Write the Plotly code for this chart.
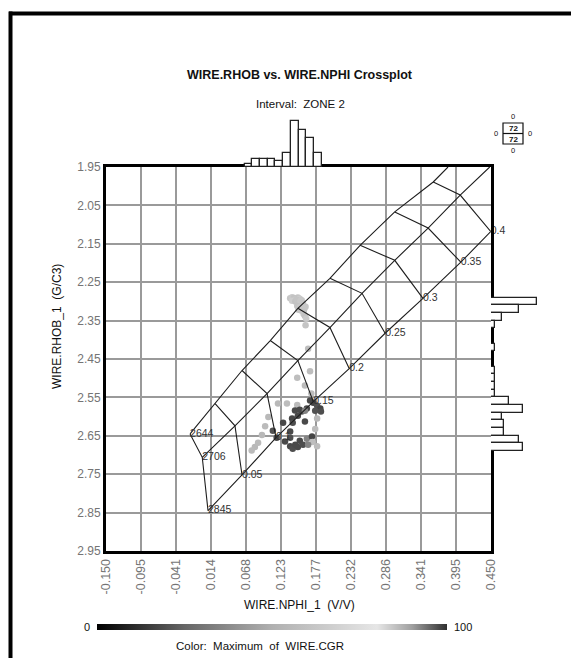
import plotly.graph_objects as go

# ---------------- data ----------------
# crossplot points (NPHI v/v, RHOB g/cc, CGR colour)
nphi = [0.137, 0.140, 0.143, 0.146, 0.149, 0.152, 0.155, 0.140, 0.145, 0.150, 0.147, 0.153, 0.157,
        0.148, 0.152, 0.156, 0.159, 0.154, 0.158, 0.161, 0.150,
        0.158, 0.160, 0.162, 0.161, 0.165, 0.168, 0.148, 0.160, 0.170,
        0.118, 0.132, 0.148, 0.168, 0.173,
        0.163, 0.179, 0.184, 0.155, 0.152, 0.160, 0.1445, 0.176, 0.185,
        0.149, 0.140, 0.179,
        0.126, 0.141, 0.160, 0.103,
        0.110, 0.176, 0.137, 0.098,
        0.116, 0.137, 0.093, 0.129, 0.163, 0.171, 0.152, 0.172,
        0.082, 0.077, 0.137, 0.141, 0.149, 0.157, 0.179, 0.145, 0.165, 0.087]
rhob = [2.292, 2.289, 2.291, 2.294, 2.290, 2.293, 2.297, 2.298, 2.300, 2.302, 2.296, 2.299, 2.305,
        2.312, 2.315, 2.318, 2.320, 2.324, 2.327, 2.314, 2.322,
        2.333, 2.338, 2.345, 2.362, 2.423, 2.482, 2.499, 2.519, 2.540,
        2.566, 2.566, 2.570, 2.558, 2.564,
        2.579, 2.572, 2.579, 2.587, 2.582, 2.585, 2.584, 2.585, 2.587,
        2.598, 2.605, 2.605,
        2.616, 2.616, 2.613, 2.601,
        2.637, 2.632, 2.639, 2.625,
        2.655, 2.655, 2.648, 2.665, 2.658, 2.652, 2.663, 2.666,
        2.679, 2.688, 2.677, 2.684, 2.679, 2.673, 2.677, 2.673, 2.673, 2.668]
cgr = [62, 64, 60, 63, 61, 65, 62, 66, 60, 63, 61, 64, 62,
       60, 63, 61, 64, 62, 60, 63, 61,
       62, 60, 64, 61, 58, 57, 58, 56, 57,
       55, 57, 56, 18, 17,
       18, 20, 17, 19, 18, 35, 18, 20, 19,
       18, 17, 55,
       18, 19, 18, 55,
       20, 57, 18, 56,
       18, 19, 55, 18, 35, 17, 18, 58,
       55, 56, 18, 19, 18, 19, 57, 18, 35, 56]

# marginal histograms (relative frequency)
top_bin_nphi = [0.072, 0.084, 0.096, 0.108, 0.120, 0.132, 0.144, 0.156, 0.168, 0.180]
top_freq = [0.7, 2.0, 2.0, 2.0, 1.6, 3.7, 12.0, 9.7, 7.6, 3.7]
right_bin_rhob = [2.30, 2.32, 2.34, 2.36, 2.42, 2.48, 2.50, 2.52, 2.54,
                  2.56, 2.58, 2.60, 2.62, 2.64, 2.66, 2.68]
right_freq = [12.0, 7.2, 2.9, 1.0, 1.0, 1.0, 1.0, 1.0, 1.0,
              4.7, 8.3, 2.9, 3.5, 3.5, 7.2, 8.3]

# neutron-density chart overlay (sandstone, limestone, dolomite lines)
porosity_labels = ["0", "0.05", "0.1", "0.15", "0.2", "0.25", "0.3", "0.35", "0.4"]
matrix_labels = ["2644", "2706", "2845"]
ss_nphi = [-0.019, 0.020, 0.062, 0.106, 0.149, 0.199, 0.246, 0.300, 0.360]
ss_rhob = [2.645, 2.566, 2.480, 2.402, 2.318, 2.240, 2.154, 2.067, 1.989]
ls_nphi = [0.000, 0.051, 0.101, 0.149, 0.199, 0.249, 0.300, 0.352, 0.402]
ls_rhob = [2.706, 2.624, 2.540, 2.454, 2.368, 2.279, 2.193, 2.109, 2.023]
dol_nphi = [0.009, 0.062, 0.115, 0.173, 0.229, 0.285, 0.344, 0.403, 0.4495]
dol_rhob = [2.845, 2.752, 2.655, 2.561, 2.475, 2.383, 2.292, 2.198, 2.118]
ss_end = (0.383, 1.950)
ls_end = (0.448, 1.950)

x_ticks = ["-0.150", "-0.095", "-0.041", "0.014", "0.068", "0.123", "0.177",
           "0.232", "0.286", "0.341", "0.395", "0.450"]
y_ticks = ["1.95", "2.05", "2.15", "2.25", "2.35", "2.45", "2.55", "2.65", "2.75", "2.85", "2.95"]

# ---------------- figure ----------------
OFF = 8                      # page body margin of the browser
W, H = 579 - OFF, 658 - OFF
L, R, T, B = 106, 540, 115, 551   # paper area, in screenshot pixels
PW, PH = R - L, B - T
def px(xp):
    return (xp - L) / PW
def py(yp):
    return (B - yp) / PH

XD = px(491)
YD = py(167)
X_RANGE = [-0.15, 0.45]
Y_RANGE = [2.95, 1.95]

font_fam = "Liberation Sans, Arial, sans-serif"
grey_scale = [[0.0, "#000000"], [0.25, "#666666"], [0.5, "#b0b0b0"],
              [0.8, "#e6e6e6"], [0.9, "#a0a0a0"], [1.0, "#303030"]]

fig = go.Figure()

fig.add_trace(go.Scatter(
    x=nphi, y=rhob, mode="markers", xaxis="x", yaxis="y",
    marker=dict(size=6.5, color=cgr, colorscale=grey_scale, cmin=0, cmax=100,
                line=dict(width=0), showscale=True,
                colorbar=dict(orientation="h", x=px(272), xanchor="center",
                              y=py(627), yanchor="middle", lenmode="pixels", len=350,
                              thickness=6, outlinewidth=0, showticklabels=False,
                              ticks="", xpad=0, ypad=0)),
    showlegend=False, hoverinfo="skip"))

# chart lines
line_style = dict(color="#1e1e1e", width=1.1)
for xs, ys, end in [(ss_nphi, ss_rhob, ss_end), (ls_nphi, ls_rhob, ls_end), (dol_nphi, dol_rhob, None)]:
    xx = list(xs) + ([end[0]] if end else [])
    yy = list(ys) + ([end[1]] if end else [])
    fig.add_trace(go.Scatter(x=xx, y=yy, mode="lines", line=line_style,
                             xaxis="x", yaxis="y", showlegend=False, hoverinfo="skip"))
cx, cy = [], []
for i in range(len(porosity_labels)):
    cx += [ss_nphi[i], ls_nphi[i], dol_nphi[i], None]
    cy += [ss_rhob[i], ls_rhob[i], dol_rhob[i], None]
fig.add_trace(go.Scatter(x=cx, y=cy, mode="lines", line=line_style,
                         xaxis="x", yaxis="y", showlegend=False, hoverinfo="skip"))

lab_font = dict(family=font_fam, size=10.5, color="#333333")
fig.add_trace(go.Scatter(x=dol_nphi[1:], y=dol_rhob[1:], mode="text",
                         text=porosity_labels[1:], textposition="middle right",
                         textfont=lab_font, cliponaxis=False,
                         xaxis="x", yaxis="y", showlegend=False, hoverinfo="skip"))
fig.add_trace(go.Scatter(x=[ss_nphi[0], ls_nphi[0], dol_nphi[0]],
                         y=[ss_rhob[0], ls_rhob[0], dol_rhob[0]], mode="text",
                         text=matrix_labels, textposition="middle right",
                         textfont=lab_font, cliponaxis=False,
                         xaxis="x", yaxis="y", showlegend=False, hoverinfo="skip"))

# histograms (own axes so the main grid does not run into them)
bar_mk = dict(color="white", line=dict(color="#222222", width=1.3))
fig.add_trace(go.Bar(x=top_bin_nphi, y=top_freq, width=0.012, marker=bar_mk,
                     xaxis="x2", yaxis="y2", showlegend=False, hoverinfo="skip"))
fig.add_trace(go.Bar(y=right_bin_rhob, x=right_freq, width=0.02, orientation="h",
                     marker=bar_mk, xaxis="x3", yaxis="y3", showlegend=False, hoverinfo="skip"))

xtick_font = dict(family=font_fam, size=12.5, color="#747474")
ytick_font = dict(family=font_fam, size=12, color="#747474")
fig.update_layout(
    width=W, height=H,
    margin=dict(l=L - OFF, r=W - (R - OFF), t=T - OFF, b=H - (B - OFF), pad=0),
    paper_bgcolor="white", plot_bgcolor="rgba(0,0,0,0)",
    font=dict(family=font_fam, color="#111111"),
    bargap=0,
    xaxis=dict(domain=[0, XD], range=X_RANGE, anchor="y",
               tickvals=[float(v) for v in x_ticks], ticktext=x_ticks, tickangle=-90,
               tickfont=xtick_font, ticks="", showgrid=True, gridcolor="#9a9a9a", gridwidth=1.5,
               zeroline=False, showline=True, mirror=True, linecolor="black", linewidth=3),
    yaxis=dict(domain=[0, YD], range=Y_RANGE, anchor="x",
               tickvals=[float(v) for v in y_ticks], ticktext=y_ticks,
               tickfont=ytick_font, ticks="", showgrid=True, gridcolor="#9a9a9a", gridwidth=1.5,
               zeroline=False, showline=True, mirror=True, linecolor="black", linewidth=3),
    xaxis2=dict(domain=[0, XD], range=X_RANGE, anchor="y2", visible=False),
    yaxis2=dict(domain=[YD, 1], range=[0, 12 * (167 - T) / 46], anchor="x2", visible=False),
    xaxis3=dict(domain=[XD, 1], range=[0, 12 * (R - 491) / 46], anchor="y3", visible=False),
    yaxis3=dict(domain=[0, YD], range=Y_RANGE, anchor="x3", visible=False),
)

ann = [
    dict(text="<b>WIRE.RHOB vs. WIRE.NPHI Crossplot</b>", x=px(300), y=py(75), size=12.5),
    dict(text="Interval:  ZONE 2", x=px(300), y=py(104), size=11.5),
    dict(text="WIRE.NPHI_1  (V/V)", x=px(299), y=py(605), size=12),
    dict(text="0", x=px(87), y=py(627), size=11),
    dict(text="100", x=px(463), y=py(627), size=11),
    dict(text="Color:  Maximum  of  WIRE.CGR", x=px(260), y=py(646), size=11.5),
    dict(text="<b>72</b>", x=px(513), y=py(128.5), size=8),
    dict(text="<b>72</b>", x=px(513), y=py(139), size=8),
    dict(text="0", x=px(496), y=py(133.5), size=7.5),
    dict(text="0", x=px(530), y=py(133.5), size=7.5),
    dict(text="0", x=px(513), y=py(116), size=7.5),
    dict(text="0", x=px(513), y=py(151), size=7.5),
]
annotations = []
for a in ann:
    annotations.append(dict(text=a["text"], x=a["x"], y=a["y"], xref="paper", yref="paper",
                            xanchor="center", yanchor="middle", showarrow=False,
                            font=dict(family=font_fam, size=a["size"], color="#111111")))
annotations.append(dict(text="WIRE.RHOB_1  (G/C3)", x=px(57), y=py(327), xref="paper", yref="paper",
                        xanchor="center", yanchor="middle", showarrow=False, textangle=-90,
                        font=dict(family=font_fam, size=12, color="#111111")))
fig.update_layout(annotations=annotations)

shapes = [
    dict(type="rect", xref="paper", yref="paper", x0=px(503), x1=px(523), y0=py(144), y1=py(123),
         line=dict(color="#111111", width=1.2)),
    dict(type="line", xref="paper", yref="paper", x0=px(503), x1=px(523), y0=py(133.5), y1=py(133.5),
         line=dict(color="#111111", width=1.2)),
    dict(type="line", xref="paper", yref="paper", x0=px(9), x1=px(579), y0=py(13.5), y1=py(13.5),
         line=dict(color="black", width=4)),
    dict(type="line", xref="paper", yref="paper", x0=px(10.5), x1=px(10.5), y0=py(11.5), y1=py(658),
         line=dict(color="black", width=4)),
]
fig.update_layout(shapes=shapes)

fig.write_html("out.html")
